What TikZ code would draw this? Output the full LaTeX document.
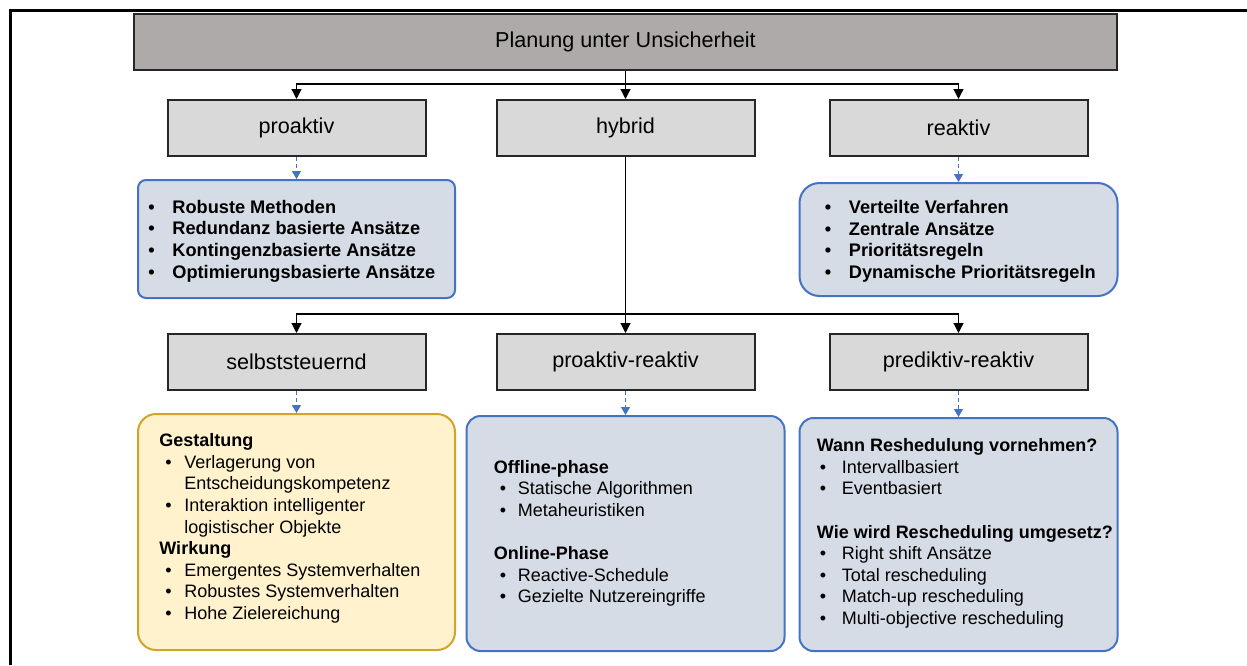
\documentclass[tikz,border=0pt]{standalone}
\usepackage{fontspec}
\setmainfont{Liberation Sans}
\usetikzlibrary{positioning,arrows.meta}

\definecolor{titlegray}{HTML}{AEAAAA}
\definecolor{levelgray}{HTML}{D9D9D9}
\definecolor{edgegray}{HTML}{262626}
\definecolor{infoblue}{HTML}{4472C4}
\definecolor{infofill}{HTML}{D6DCE5}
\definecolor{notefill}{HTML}{FFF2CC}
\definecolor{noteedge}{HTML}{D1A42A}

% bullet line: [indent]{bullet box}{text}
\newcommand\bul[3][0pt]{\hspace*{#1}\makebox[#2][l]{\textbullet}#3}

\begin{document}
\begin{tikzpicture}[x=0.5pt,y=-0.5pt,
  every node/.style={inner sep=0pt},
  level/.style={draw=edgegray,line width=1pt,fill=levelgray,minimum width=129pt,
    minimum height=28pt,font=\fontsize{10.8}{13}\selectfont},
  infobox/.style={draw=infoblue,line width=1pt,fill=infofill,minimum width=159pt},
  notebox/.style={draw=noteedge,line width=1pt,fill=notefill,minimum width=158.5pt},
  infotext/.style={align=left,font=\fontsize{9}{10.8}\selectfont},
  link/.style={black,line width=0.6pt,-{Triangle[width=5pt,length=5pt]}},
  hint/.style={infoblue,dash pattern=on 2pt off 1.5pt,line width=0.6pt,
    -{Triangle[width=4.5pt,length=4pt]}}
]
  \useasboundingbox (0,0) rectangle (1247,665);
  \draw[line width=1.5pt] (1247,10) -| (10,665);

  % top
  \node[level,fill=titlegray,minimum width=491.5pt] (title) at (625.5,42) {Planung unter Unsicherheit};
  \node[level,below=14pt of title] (hybrid) {hybrid};
  \node[level,left=34.5pt of hybrid] (proaktiv) {proaktiv};
  \node[level,right=36.5pt of hybrid] (reaktiv) {reaktiv};

  \coordinate (split1) at ([yshift=-6.5pt]title.south);
  \draw[link] (title.south) -- (hybrid.north);
  \draw[link] (split1) -| (proaktiv.north);
  \draw[link] (split1) -| (reaktiv.north);

  % proaktiv / reaktiv
  \node[infobox,rounded corners=4pt,minimum width=158.5pt,minimum height=59pt,
    below=11pt of proaktiv] (proInfo) {};
  \node[infotext,font=\fontsize{9.1}{10.8}\selectfont\bfseries,right=5.5pt of proInfo.west,
    yshift=-1pt] (proText)
    {\bul{12pt}{Robuste Methoden}\\
     \bul{12pt}{Redundanz basierte Ansätze}\\
     \bul{12pt}{Kontingenzbasierte Ansätze}\\
     \bul{12pt}{Optimierungsbasierte Ansätze}};
  \draw[hint] (proaktiv.south) -- (proInfo.north);

  \node[infobox,rounded corners=10pt,minimum height=56.5pt,
    below=12.5pt of reaktiv] (reInfo) {};
  \node[infotext,font=\fontsize{9.1}{10.8}\selectfont\bfseries,right=13pt of reInfo.west,
    yshift=-1pt] (reText)
    {\bul{12pt}{Verteilte Verfahren}\\
     \bul{12pt}{Zentrale Ansätze}\\
     \bul{12pt}{Prioritätsregeln}\\
     \bul{12pt}{Dynamische Prioritätsregeln}};
  \draw[hint] (reaktiv.south) -- (reInfo.north);

  % hybrid
  \node[level,below=88pt of hybrid] (prore) {proaktiv-reaktiv};
  \node[level,left=34.5pt of prore] (selbst) {selbststeuernd};
  \node[level,right=36.5pt of prore] (predre) {prediktiv-reaktiv};

  \coordinate (split2) at ([yshift=9.5pt]prore.north);
  \draw[link] (hybrid.south) -- (prore.north);
  \draw[link] (split2) -| (selbst.north);
  \draw[link] (split2) -| (predre.north);

  \node[notebox,rounded corners=9pt,minimum height=118pt,below=11pt of selbst] (selbstInfo) {};
  \node[infotext,right=11pt of selbstInfo.west,yshift=1.75pt] (selbstText)
    {\textbf{Gestaltung}\\
     \bul[3pt]{9.5pt}{Verlagerung von}\\
     \hspace*{12.5pt}Entscheidungskompetenz\\
     \bul[3pt]{9.5pt}{Interaktion intelligenter}\\
     \hspace*{12.5pt}logistischer Objekte\\
     \textbf{Wirkung}\\
     \bul[3pt]{9.5pt}{Emergentes Systemverhalten}\\
     \bul[3pt]{9.5pt}{Robustes Systemverhalten}\\
     \bul[3pt]{9.5pt}{Hohe Zielereichung}};
  \draw[hint] (selbst.south) -- (selbstInfo.north);

  \node[infobox,rounded corners=7pt,minimum height=117.5pt,below=12pt of prore] (proreInfo) {};
  \node[infotext,right=14pt of proreInfo.west] (proreText)
    {\textbf{Offline-phase}\\
     \bul[3pt]{9pt}{Statische Algorithmen}\\
     \bul[3pt]{9pt}{Metaheuristiken}\\[10.8pt]
     \textbf{Online-Phase}\\
     \bul[3pt]{9pt}{Reactive-Schedule}\\
     \bul[3pt]{9pt}{Gezielte Nutzereingriffe}};
  \draw[hint] (prore.south) -- (proreInfo.north);

  \node[infobox,rounded corners=7pt,minimum height=116.5pt,below=13pt of predre] (predreInfo) {};
  \node[infotext,right=9pt of predreInfo.west,yshift=0.5pt] (predreText)
    {\textbf{Wann Reshedulung vornehmen?}\\
     \bul[1.5pt]{11pt}{Intervallbasiert}\\
     \bul[1.5pt]{11pt}{Eventbasiert}\\[10.8pt]
     \textbf{Wie wird Rescheduling umgesetz?}\\
     \bul[1.5pt]{11pt}{Right shift Ansätze}\\
     \bul[1.5pt]{11pt}{Total rescheduling}\\
     \bul[1.5pt]{11pt}{Match-up rescheduling}\\
     \bul[1.5pt]{11pt}{Multi-objective rescheduling}};
  \draw[hint] (predre.south) -- (predreInfo.north);
\end{tikzpicture}
\end{document}
